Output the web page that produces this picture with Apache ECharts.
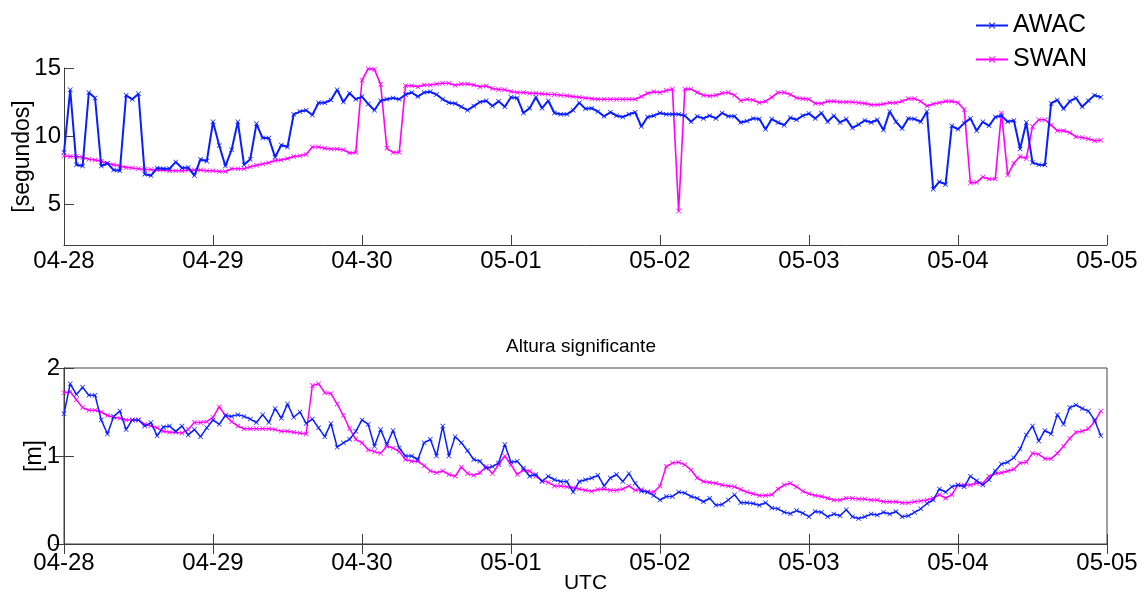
<!DOCTYPE html>
<html>
<head>
<meta charset="utf-8">
<script src="https://cdn.jsdelivr.net/npm/echarts@6/dist/echarts.min.js"></script>
<style>
html,body{margin:0;padding:0;background:#fff;}
#chart{width:1144px;height:593px;}
</style>
</head>
<body>
<div id="chart"></div>
<script>
// hourly samples from 04-28 00:00 to 05-04 23:00 (index = hours since 04-28)
const dayLabels = ['04-28','04-29','04-30','05-01','05-02','05-03','05-04','05-05'];
const periodTicks = [5, 10, 15];

// Top panel: period [segundos]
const awacPeriod = [
  8.8,13.4,7.9,7.8,13.2,12.8,7.8,8.0,7.5,7.45,13.0,12.7,13.1,7.2,7.1,7.65,7.6,7.6,8.1,7.65,7.7,7.1,8.3,8.15,11.05,9.3,7.8,9.0,11.05,
  7.9,8.3,10.9,9.85,9.85,8.45,9.35,9.2,11.6,11.8,11.9,11.55,12.45,12.45,12.65,13.4,12.5,13.15,12.7,12.9,12.35,11.9,12.6,12.7,12.8,12.7,13.05,13.2,
  12.9,13.2,13.25,13.05,12.7,12.45,12.4,12.15,11.9,12.2,12.5,12.6,12.2,12.55,12.15,12.85,12.8,11.7,12.05,12.85,12.05,12.6,11.7,11.6,11.6,11.9,12.45,12.0,
  12.05,11.8,11.45,11.75,11.5,11.4,11.6,11.75,10.7,11.4,11.5,11.7,11.6,11.6,11.6,11.5,11.05,11.45,11.3,11.5,11.3,11.7,11.45,11.45,11.0,11.1,11.3,
  11.25,10.5,11.25,11.0,10.8,11.35,11.2,11.5,11.65,11.3,11.7,11.05,11.5,11.0,11.25,10.6,10.85,11.15,11.0,11.2,10.45,11.8,11.05,10.55,11.3,11.25,11.05,11.8,
  6.1,6.65,6.45,10.75,10.5,10.95,11.3,10.4,11.05,10.75,11.4,11.5,11.05,11.15,9.05,11.0,8.05,7.9,7.88,12.4,12.65,12.0,12.55,12.8,12.15,12.6,13.0,12.85
];
const swanPeriod = [
  8.55,8.5,8.5,8.45,8.3,8.25,8.15,8.0,7.9,7.8,7.7,7.65,7.6,7.55,7.55,7.5,7.5,7.45,7.45,7.45,7.5,7.5,7.5,7.45,7.45,7.4,7.4,7.6,7.6,
  7.6,7.75,7.85,7.95,8.05,8.2,8.25,8.35,8.5,8.55,8.65,9.2,9.2,9.1,9.05,9.05,9.0,8.75,8.8,14.1,14.95,14.9,13.8,9.1,8.8,8.8,13.7,13.7,
  13.63,13.75,13.75,13.83,13.88,13.88,13.73,13.83,13.83,13.75,13.63,13.68,13.5,13.43,13.4,13.27,13.2,13.2,13.15,13.15,13.1,13.07,13.05,13.0,12.97,12.9,12.85,12.8,
  12.75,12.7,12.7,12.7,12.7,12.7,12.7,12.7,12.9,13.15,13.25,13.2,13.35,13.45,4.5,13.45,13.45,13.2,13.0,12.95,13.0,13.15,13.2,13.0,12.6,12.7,12.65,
  12.45,12.55,12.85,13.2,13.2,13.05,12.8,12.75,12.7,12.4,12.4,12.55,12.55,12.5,12.5,12.5,12.45,12.4,12.3,12.3,12.35,12.45,12.45,12.55,12.75,12.75,12.55,12.2,
  12.35,12.45,12.55,12.55,12.45,11.95,6.55,6.6,7.0,6.85,6.85,11.7,7.15,8.0,8.5,8.35,10.7,11.2,11.2,10.8,10.4,10.4,10.25,9.95,9.9,9.8,9.65,9.7
];

// Bottom panel: significant height [m]
const awacHs = [
  1.48,1.82,1.70,1.78,1.69,1.69,1.41,1.25,1.45,1.51,1.30,1.41,1.41,1.34,1.38,1.23,1.33,1.34,1.28,1.34,1.24,1.30,1.22,1.32,1.41,1.36,1.46,1.45,1.47,1.45,
  1.42,1.38,1.47,1.38,1.54,1.43,1.59,1.44,1.50,1.37,1.42,1.32,1.22,1.37,1.10,1.15,1.19,1.28,1.41,1.36,1.11,1.30,1.13,1.29,1.09,
  1.00,1.00,0.96,1.15,1.19,1.00,1.34,1.00,1.22,1.15,1.06,0.96,0.94,0.86,0.88,0.92,1.13,0.93,0.94,0.86,0.77,0.79,0.71,0.77,0.73,0.71,0.71,0.59,0.71,0.73,
  0.75,0.78,0.66,0.75,0.79,0.71,0.80,0.69,0.60,0.59,0.55,0.50,0.54,0.54,0.59,0.58,0.54,0.52,0.48,0.52,0.44,0.45,0.50,0.56,0.47,0.47,0.46,
  0.44,0.47,0.41,0.40,0.36,0.345,0.38,0.35,0.31,0.37,0.36,0.31,0.34,0.32,0.39,0.31,0.29,0.31,0.34,0.33,0.36,0.34,0.37,0.31,0.32,0.36,0.40,0.46,
  0.50,0.625,0.59,0.65,0.67,0.65,0.77,0.72,0.67,0.73,0.83,0.91,0.93,0.98,1.08,1.24,1.34,1.17,1.29,1.25,1.47,1.36,1.55,1.58,1.54,1.51,1.41,1.23
];
const swanHs = [
  1.72,1.73,1.64,1.55,1.52,1.52,1.50,1.46,1.44,1.43,1.41,1.41,1.41,1.36,1.34,1.32,1.28,1.27,1.27,1.26,1.30,1.38,1.38,1.39,1.44,1.56,1.46,1.39,1.34,1.31,
  1.31,1.31,1.31,1.31,1.30,1.28,1.28,1.27,1.26,1.25,1.80,1.82,1.72,1.71,1.59,1.46,1.31,1.19,1.15,1.07,1.05,1.03,1.11,1.09,1.05,
  0.96,0.94,0.94,0.89,0.83,0.81,0.83,0.79,0.77,0.875,0.80,0.78,0.81,0.88,0.80,0.90,1.00,0.90,0.79,0.84,0.83,0.77,0.72,0.70,0.66,0.66,0.65,0.64,0.625,0.61,
  0.60,0.62,0.625,0.61,0.61,0.625,0.66,0.61,0.62,0.59,0.59,0.66,0.88,0.92,0.93,0.90,0.84,0.75,0.71,0.70,0.69,0.67,0.66,0.65,0.62,0.59,0.57,
  0.55,0.55,0.56,0.625,0.67,0.69,0.65,0.60,0.57,0.55,0.54,0.52,0.50,0.50,0.52,0.52,0.51,0.51,0.50,0.50,0.48,0.48,0.48,0.47,0.47,0.48,0.49,0.50,
  0.52,0.56,0.52,0.56,0.67,0.67,0.67,0.69,0.69,0.77,0.80,0.81,0.83,0.85,0.92,0.93,1.03,1.02,0.97,0.97,1.03,1.11,1.20,1.27,1.28,1.31,1.39,1.51
];

const BLUE = '#0a1eff';
const MAG = '#ff00ff';
const AX = '#404040';
const FONT = "'Liberation Sans', Arial, sans-serif";
const XSYM = 'path://M0,1L1,0L5,4L9,0L10,1L6,5L10,9L9,10L5,6L1,10L0,9L4,5Z';
const toPts = arr => arr.map((v, i) => [i, v]);

const chart = echarts.init(document.getElementById('chart'), null, {renderer: 'canvas'});

const xBase = (gridIndex, margin, extra) => Object.assign({
  type: 'value', gridIndex, min: 0, max: 168, interval: 24,
  axisLine: {show: true, lineStyle: {color: AX, width: 1}},
  axisTick: {show: true, inside: true, length: 10, lineStyle: {color: AX}},
  axisLabel: {show: true, margin: margin, color: '#000', fontSize: 24, fontFamily: FONT,
    formatter: v => dayLabels[Math.round(v / 24)], showMinLabel: true, showMaxLabel: true},
  splitLine: {show: false}
}, extra);

chart.setOption({
  animation: false,
  backgroundColor: '#fff',
  textStyle: {fontFamily: FONT},
  grid: [
    {left: 64, right: 37, top: 68, bottom: 348, containLabel: false, outerBoundsMode: 'none'},
    {left: 64, right: 37, top: 368, bottom: 49, containLabel: false, outerBoundsMode: 'none',
      show: true, borderColor: AX, borderWidth: 1}
  ],
  legend: {
    orient: 'vertical', left: 970, top: 8, itemGap: 9, itemWidth: 32, itemHeight: 8,
    textStyle: {fontSize: 25, fontFamily: FONT, color: '#000'},
    data: ['AWAC', 'SWAN']
  },
  graphic: [
    {type: 'text', left: 506, top: 337, style: {text: 'Altura significante', fontSize: 19, fontFamily: FONT, fill: '#000'}}
  ],
  xAxis: [
    xBase(0, 4),
    xBase(1, 7, {name: 'UTC', nameLocation: 'middle', nameGap: 29, nameMoveOverlap: false,
      nameTextStyle: {fontSize: 21, color: '#000', fontFamily: FONT}}),
    xBase(1, 7, {position: 'top', axisLabel: {show: false}})
  ],
  yAxis: [
    {type: 'value', gridIndex: 0, min: 2, max: 15,
      name: '[segundos]', nameLocation: 'middle', nameGap: 30, nameMoveOverlap: false,
      nameTextStyle: {fontSize: 23, color: '#000', fontFamily: FONT},
      axisLine: {show: true, lineStyle: {color: AX}},
      axisTick: {show: true, inside: true, length: 10, customValues: periodTicks, lineStyle: {color: AX}},
      axisLabel: {customValues: periodTicks, margin: 3, color: '#000', fontSize: 24, fontFamily: FONT},
      splitLine: {show: false}},
    {type: 'value', gridIndex: 1, min: 0, max: 2, interval: 1,
      name: '[m]', nameLocation: 'middle', nameGap: 18, nameMoveOverlap: false,
      nameTextStyle: {fontSize: 23, color: '#000', fontFamily: FONT},
      axisLine: {show: true, lineStyle: {color: AX}},
      axisTick: {show: true, inside: true, length: 10, lineStyle: {color: AX}},
      axisLabel: {margin: 4, color: '#000', fontSize: 24, fontFamily: FONT},
      splitLine: {show: false}},
    {type: 'value', gridIndex: 1, min: 0, max: 2, interval: 1, position: 'right',
      axisLine: {show: true, lineStyle: {color: AX}},
      axisTick: {show: true, inside: true, length: 10, lineStyle: {color: AX}},
      axisLabel: {show: false}, splitLine: {show: false}}
  ],
  series: [
    {name: 'AWAC', type: 'line', xAxisIndex: 0, yAxisIndex: 0, data: toPts(awacPeriod),
      symbol: XSYM, symbolSize: 5, showSymbol: true, lineStyle: {color: BLUE, width: 2},
      itemStyle: {color: BLUE}, z: 3},
    {name: 'SWAN', type: 'line', xAxisIndex: 0, yAxisIndex: 0, data: toPts(swanPeriod),
      symbol: XSYM, symbolSize: 5, showSymbol: true, lineStyle: {color: MAG, width: 1.6},
      itemStyle: {color: MAG}, z: 2},
    {name: 'AWAC', type: 'line', xAxisIndex: 1, yAxisIndex: 1, data: toPts(awacHs),
      symbol: XSYM, symbolSize: 5, showSymbol: true, lineStyle: {color: BLUE, width: 1.5},
      itemStyle: {color: BLUE}, z: 3},
    {name: 'SWAN', type: 'line', xAxisIndex: 1, yAxisIndex: 1, data: toPts(swanHs),
      symbol: XSYM, symbolSize: 5, showSymbol: true, lineStyle: {color: MAG, width: 1.5},
      itemStyle: {color: MAG}, z: 2}
  ]
});
</script>
</body>
</html>
